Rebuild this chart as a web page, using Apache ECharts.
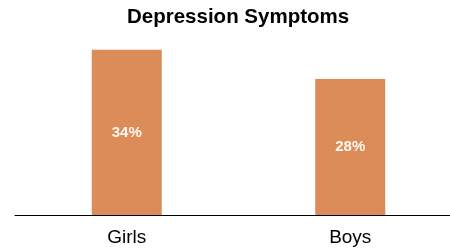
<!DOCTYPE html>
<html>
<head>
<meta charset="utf-8">
<script src="https://cdn.jsdelivr.net/npm/echarts@6/dist/echarts.min.js"></script>
<style>
	html, body { margin: 0; padding: 0; background: #fff; }
	#chart { width: 450px; height: 252px; }
</style>
</head>
<body>
<div id="chart"></div>
<script>
// 数据
const categories = ['Girls', 'Boys'];
const values = [34, 28];

const chart = echarts.init(document.getElementById('chart'));

const option = {
	backgroundColor: '#fff',
	title: {
		text: 'Depression Symptoms',
		left: 122,
		top: 2,
		textStyle: {
			fontFamily: 'Liberation Sans, Arial, sans-serif',
			fontSize: 20.5,
			fontWeight: 'bold',
			color: '#000',
		},
	},
	grid: {
		left: 15,
		top: 40,
		width: 447,
		height: 175,
		containLabel: false,
		outerBoundsMode: 'none',
	},
	xAxis: {
		type: 'category',
		data: categories,
		axisLine: { lineStyle: { color: '#000', width: 1 } },
		axisTick: { show: false },
		axisLabel: {
			color: '#000',
			fontFamily: 'Liberation Sans, Arial, sans-serif',
			fontSize: 19,
			margin: 13,
		},
	},
	yAxis: {
		type: 'value',
		min: 0,
		max: 36,
		show: false,
		splitLine: { show: false },
	},
	series: [
		{
			type: 'bar',
			data: values,
			barWidth: 70,
			itemStyle: { color: '#dc8c58' },
			label: {
				show: true,
				position: 'inside',
				formatter: '{c}%',
				color: '#fff8ee',
				fontFamily: 'Liberation Sans, Arial, sans-serif',
				fontSize: 15,
				fontWeight: 'bold',
			},
		},
	],
};

chart.setOption(option);
</script>
</body>
</html>
